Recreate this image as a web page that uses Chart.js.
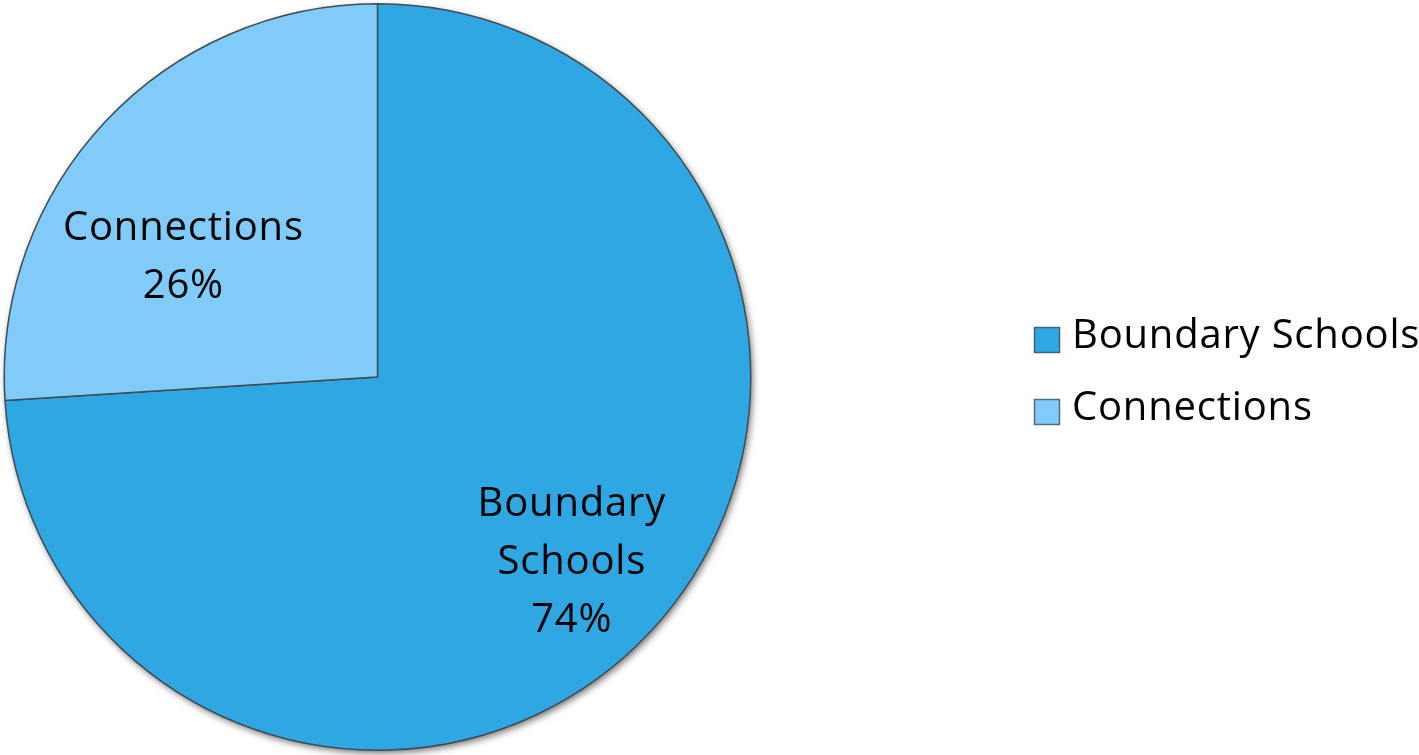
<!DOCTYPE html>
<html>
<head>
<meta charset="utf-8">
<script src="https://cdn.jsdelivr.net/npm/chart.js@4.4.1/dist/chart.umd.min.js"></script>
<style>
  html, body { margin: 0; padding: 0; background: #fff; }
  #wrap { width: 1419px; height: 755px; position: relative; }
</style>
</head>
<body>
<div id="wrap"><canvas id="pie"></canvas></div>
<script>
const categories = ['Boundary Schools', 'Connections'];
const shares = [74, 26];
const sliceColors = ['#2fa7e2', '#80cbf8'];
// how each slice label wraps inside its slice
const labelLines = [['Boundary', 'Schools'], ['Connections']];

const FONT = '"Open Sans", Lato, sans-serif';
const FONT_SIZE = 40;
const LETTER_SPACING = '0.8px';
const LINE_GAP = 58;

// where the label sits inside a slice: fraction of the radius, plus an angle nudge (deg)
const labelPlacement = [{frac: 0.72, nudge: 0.5}, {frac: 0.61, nudge: -11.7}];

const pieShadow = {
  id: 'pieShadow',
  beforeDatasetsDraw(chart) {
    const arc = chart.getDatasetMeta(0).data[0];
    if (!arc) return;
    const {ctx} = chart;
    ctx.save();
    ctx.shadowColor = 'rgba(0,0,0,0.55)';
    ctx.shadowBlur = 7;
    ctx.shadowOffsetX = 2;
    ctx.shadowOffsetY = 3;
    ctx.fillStyle = '#fff';
    ctx.beginPath();
    ctx.arc(arc.x, arc.y, arc.outerRadius, 0, Math.PI * 2);
    ctx.fill();
    ctx.restore();
  }
};

function setFont(ctx) {
  ctx.font = FONT_SIZE + 'px ' + FONT;
  ctx.letterSpacing = LETTER_SPACING;
}

const sliceLabels = {
  id: 'sliceLabels',
  afterDatasetsDraw(chart) {
    const {ctx} = chart;
    const meta = chart.getDatasetMeta(0);
    ctx.save();
    setFont(ctx);
    ctx.fillStyle = '#000';
    ctx.textAlign = 'center';
    ctx.textBaseline = 'middle';
    meta.data.forEach((arc, i) => {
      const p = labelPlacement[i];
      const mid = (arc.startAngle + arc.endAngle) / 2 + p.nudge * Math.PI / 180;
      const r = arc.outerRadius * p.frac;
      const cx = arc.x + Math.cos(mid) * r;
      const cy = arc.y + Math.sin(mid) * r;
      const lines = labelLines[i].concat([shares[i] + '%']);
      const top = cy - (lines.length - 1) * LINE_GAP / 2;
      lines.forEach((t, k) => ctx.fillText(t, cx, top + k * LINE_GAP));
    });
    ctx.restore();
  }
};

const sideLegend = {
  id: 'sideLegend',
  afterDraw(chart) {
    const {ctx} = chart;
    const x = 1034, y0 = 340, step = 72, box = 26;
    ctx.save();
    setFont(ctx);
    ctx.textAlign = 'left';
    ctx.textBaseline = 'middle';
    categories.forEach((name, i) => {
      const y = y0 + i * step;
      ctx.fillStyle = sliceColors[i];
      ctx.fillRect(x, y - box / 2, box, box);
      ctx.strokeStyle = 'rgba(60,75,90,0.75)';
      ctx.lineWidth = 1.5;
      ctx.strokeRect(x + 0.5, y - box / 2 + 0.5, box - 1, box - 1);
      ctx.fillStyle = '#000';
      ctx.fillText(name, x + box + 12, y - 3);
    });
    ctx.restore();
  }
};

new Chart(document.getElementById('pie'), {
  type: 'pie',
  data: {
    labels: categories,
    datasets: [{
      data: shares,
      backgroundColor: sliceColors,
      borderColor: '#3f4b55',
      borderWidth: 1.5
    }]
  },
  options: {
    responsive: true,
    maintainAspectRatio: false,
    animation: false,
    layout: {padding: {left: 3, top: 3, bottom: 4, right: 667}},
    plugins: {
      legend: {display: false},
      tooltip: {enabled: false}
    }
  },
  plugins: [pieShadow, sliceLabels, sideLegend]
});
</script>
</body>
</html>
